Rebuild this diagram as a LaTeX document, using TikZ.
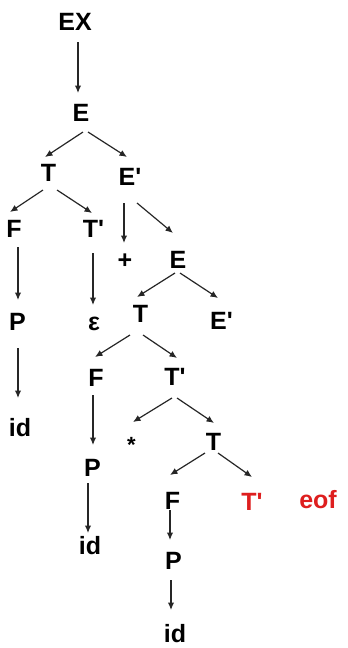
\documentclass[tikz,border=0pt]{standalone}
\usepackage{fontspec}
\setmainfont{Liberation Sans}
\usetikzlibrary{arrows.meta}
\definecolor{eofred}{RGB}{222,30,30}
\newcommand{\pr}{\textquotesingle}
\tikzset{
  sym/.style={font=\fontsize{25}{25}\selectfont\bfseries, inner sep=0pt, text height=18pt, text depth=0pt, anchor=center},
  smallsym/.style={sym, font=\fontsize{22}{22}\selectfont\bfseries},
  redsym/.style={sym, text=eofred},
  arr/.style={draw=black!85, line width=1.2pt, -{Latex[length=7.5pt,width=6.5pt]}}
}
\begin{document}
\begin{tikzpicture}[x=1pt,y=-1pt]
\useasboundingbox[fill=white] (0,0) rectangle (348,648);
\node[sym] (EX) at (75,21.5) {EX};
\node[sym] (E1) at (81,112.5) {E};
\node[sym] (T1) at (48.5,172.5) {T};
\node[sym] (Ep1) at (130,176) {E\pr};
\node[sym] (F1) at (14,228) {F};
\node[sym] (Tp1) at (93.5,228) {T\pr};
\node[sym] (plus) at (125,259) {+};
\node[sym] (E2) at (178,259) {E};
\node[sym] (P1) at (17.5,321) {P};
\node[sym] (eps) at (94,321) {ε};
\node[sym] (T2) at (140.5,313) {T};
\node[sym] (Ep2) at (221.5,320) {E\pr};
\node[sym] (id1) at (20,427.5) {id};
\node[sym] (F2) at (96,377) {F};
\node[sym] (Tp2) at (175,376) {T\pr};
\node[smallsym] (star) at (131.5,443.5) {*};
\node[sym] (T3) at (213.5,441) {T};
\node[sym] (P2) at (92.5,467) {P};
\node[sym] (F3) at (172.5,500) {F};
\node[redsym] (Tp3) at (252,501) {T\pr};
\node[redsym] (eof) at (318,499) {eof};
\node[sym] (id2) at (90,545) {id};
\node[sym] (P3) at (173.5,560) {P};
\node[sym] (id3) at (175,633) {id};

\draw[arr] ([shift={(3,20.5)}]EX.center) -- ([shift={(-3,-19.5)}]E1.center);
\draw[arr] ([shift={(2,19.5)}]E1.center) -- ([shift={(-3.5,-15.5)}]T1.center);
\draw[arr] ([shift={(7,19.5)}]E1.center) -- ([shift={(-3,-19)}]Ep1.center);
\draw[arr] ([shift={(-5.5,17.5)}]T1.center) -- ([shift={(-4,-16)}]F1.center);
\draw[arr] ([shift={(8.5,17.5)}]T1.center) -- ([shift={(-1.5,-15)}]Tp1.center);
\draw[arr] ([shift={(-6,27)}]Ep1.center) -- ([shift={(-1,-16)}]plus.center);
\draw[arr] ([shift={(7,27)}]Ep1.center) -- ([shift={(-5,-26)}]E2.center);
\draw[arr] ([shift={(4,19)}]F1.center) -- ([shift={(0.5,-21)}]P1.center);
\draw[arr] ([shift={(-0.5,25)}]Tp1.center) -- ([shift={(-1,-16)}]eps.center);
\draw[arr] ([shift={(-3,14)}]E2.center) -- ([shift={(-3.5,-16)}]T2.center);
\draw[arr] ([shift={(2,14)}]E2.center) -- ([shift={(-3.5,-22)}]Ep2.center);
\draw[arr] ([shift={(0.5,27)}]P1.center) -- ([shift={(-2,-29.5)}]id1.center);
\draw[arr] ([shift={(-10.5,22)}]T2.center) -- ([shift={(-1,-20)}]F2.center);
\draw[arr] ([shift={(2.5,22)}]T2.center) -- ([shift={(2,-18)}]Tp2.center);
\draw[arr] ([shift={(-3,18)}]F2.center) -- ([shift={(0.5,-22)}]P2.center);
\draw[arr] ([shift={(-3,22)}]Tp2.center) -- ([shift={(1.5,-21.5)}]star.center);
\draw[arr] ([shift={(2,22)}]Tp2.center) -- ([shift={(0.5,-18)}]T3.center);
\draw[arr] ([shift={(-8.5,12)}]T3.center) -- ([shift={(-2.5,-25)}]F3.center);
\draw[arr] ([shift={(4.5,12)}]T3.center) -- ([shift={(0,-24)}]Tp3.center);
\draw[arr] ([shift={(-4.5,16)}]P2.center) -- ([shift={(-2,-12)}]id2.center);
\draw[arr] ([shift={(-2.5,10)}]F3.center) -- ([shift={(-3.5,-20)}]P3.center);
\draw[arr] ([shift={(-2.5,20)}]P3.center) -- ([shift={(-4,-23)}]id3.center);
\end{tikzpicture}
\end{document}
